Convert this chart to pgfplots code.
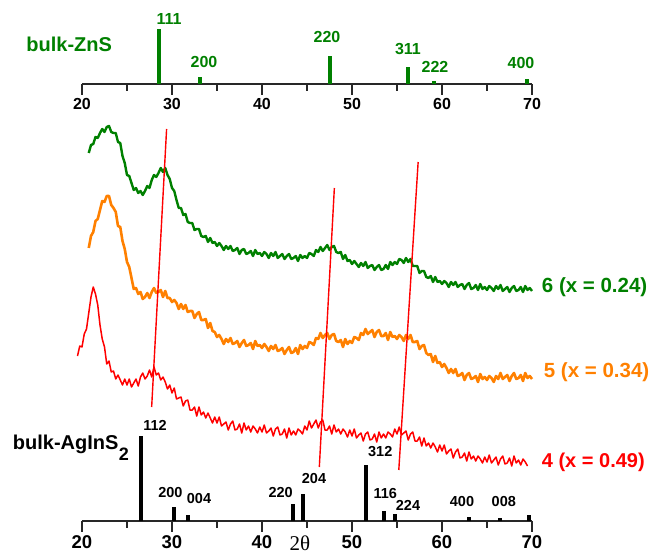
\documentclass[border=0pt]{standalone}
\usepackage{fontspec}
\setmainfont{Liberation Sans}
\newfontfamily\serifgr{Liberation Serif}
\usepackage{pgfplots}
\pgfplotsset{compat=1.18}
\definecolor{zgreen}{RGB}{0,128,0}
\definecolor{org}{RGB}{255,128,0}
\definecolor{rd}{RGB}{255,0,0}
\definecolor{axc}{RGB}{40,40,40}
\begin{document}
\begin{tikzpicture}
\pgfplotsset{
 stickaxis/.style={scale only axis, width=450pt, xmin=20, xmax=70, ymin=0,
   enlargelimits=false, clip=false, anchor=south west,
   axis x line=bottom, axis y line=none,
   x axis line style={-, line width=1.4pt, color=axc},
   xtick={20,30,...,70}, minor xtick={25,35,...,65}, tick align=outside,
   major tick length=11pt, minor tick length=7pt,
   every tick/.style={line width=1.4pt, color=axc},
   /pgf/number format/assume math mode=true},
}
% ---------- top: bulk ZnS ----------
\begin{axis}[stickaxis, at={(82pt,472pt)}, height=60pt, ymax=60,
  xticklabel style={font=\fontsize{16}{16}\selectfont\bfseries}]
\addplot[ycomb, line width=4pt, color=zgreen] coordinates {(28.61,55) (33.15,6.7) (47.5,28.3) (56.2,17.3) (59.1,3) (69.4,4.7)};
\begin{scope}[every node/.style={font=\fontsize{16}{16}\selectfont\bfseries, text=zgreen}]
\node at (axis cs:29.67,65) {111};
\node at (axis cs:33.56,21.5) {200};
\node at (axis cs:47.22,46.5) {220};
\node at (axis cs:56.22,35) {311};
\node at (axis cs:59.22,17) {222};
\node at (axis cs:68.78,20.5) {400};
\end{scope}
\node[inner sep=0pt, font=\fontsize{20}{20}\selectfont\bfseries, text=zgreen, anchor=base west] at (axis cs:13.8,32) {bulk-ZnS};
\end{axis}
% ---------- bottom: bulk AgInS2 ----------
\begin{axis}[stickaxis, at={(82pt,35pt)}, height=100pt, ymax=100,
  xticklabel style={font=\fontsize{18.5}{18.5}\selectfont\bfseries},
  xlabel={\serifgr 2θ},
  xlabel style={at={(axis description cs:0.4844,-0.145)}, anchor=north, inner sep=0pt, font=\fontsize{21}{21}\selectfont}]
\addplot[ycomb, line width=4pt, color=black] coordinates {(26.59,84.7) (30.26,14) (31.8,6.4) (43.39,16.7) (44.53,27) (51.6,55.7) (53.6,9.7) (54.8,7.4) (63.0,4) (66.48,2.5) (69.67,6)};
\begin{scope}[every node/.style={font=\fontsize{14.5}{14.5}\selectfont\bfseries, text=black}]
\node at (axis cs:28.11,96) {112};
\node at (axis cs:29.83,28) {200};
\node at (axis cs:33.0,22) {004};
\node at (axis cs:42.08,28.5) {220};
\node at (axis cs:45.78,42) {204};
\node at (axis cs:53.14,69) {312};
\node at (axis cs:53.7,27.5) {116};
\node at (axis cs:56.22,16) {224};
\node at (axis cs:62.22,19) {400};
\node at (axis cs:66.87,19) {008};
\end{scope}
\node[inner sep=0pt, font=\fontsize{20}{20}\selectfont\bfseries, anchor=base west] at (axis cs:12.3,71) {bulk-AgInS\kern0.5pt\raisebox{-11pt}{\fontsize{18}{18}\selectfont 2}};
\end{axis}
% ---------- middle: measured patterns ----------
\begin{axis}[scale only axis, width=450pt, height=556pt, at={(82pt,0pt)}, anchor=south west,
  xmin=20, xmax=70, ymin=0, ymax=556, y dir=reverse, hide axis, clip=false]
\addplot[color=zgreen, line width=2.4pt, line join=round] coordinates {
(20.75,153)(21,145)(21.25,144)(21.5,137)(21.75,138)(22,133)(22.25,129)(22.5,132)(22.75,127)(23,126)(23.25,132)(23.5,133)(23.75,133)(24,142)(24.25,143)(24.5,156)(24.75,163)(25,175)(25.25,176)(25.5,183)(25.75,190)(26,188)(26.25,193)(26.5,191)(26.75,195)(27,191)(27.25,186)(27.5,188)(27.75,180)(28,175)(28.25,177)(28.5,173)(28.75,168)(29,172)(29.25,168)(29.5,175)(29.75,179)(30,188)(30.25,191)(30.5,200)(30.75,208)(31,208)(31.25,215)(31.5,214)(31.75,222)(32,223)(32.25,223)(32.5,230)(32.75,229)(33,229)(33.25,236)(33.5,237)(33.75,236)(34,242)(34.25,238)(34.5,243)(34.75,242)(35,246)(35.25,243)(35.5,246)(35.75,250)(36,246)(36.25,249)(36.5,246)(36.75,251)(37,250)(37.25,248)(37.5,254)(37.75,250)(38,249)(38.25,254)(38.5,253)(38.75,251)(39,256)(39.25,250)(39.5,254)(39.75,253)(40,256)(40.25,252)(40.5,254)(40.75,258)(41,253)(41.25,256)(41.5,252)(41.75,258)(42,256)(42.25,254)(42.5,259)(42.75,256)(43,254)(43.25,259)(43.5,258)(43.75,256)(44,261)(44.25,255)(44.5,258)(44.75,256)(45,258)(45.25,253)(45.5,254)(45.75,256)(46,250)(46.25,252)(46.5,247)(46.75,251)(47,248)(47.25,245)(47.5,250)(47.75,247)(48,246)(48.25,252)(48.5,253)(48.75,252)(49,259)(49.25,255)(49.5,261)(49.75,260)(50,264)(50.25,261)(50.5,264)(50.75,267)(51,263)(51.25,266)(51.5,262)(51.75,268)(52,266)(52.25,265)(52.5,270)(52.75,267)(53,265)(53.25,270)(53.5,269)(53.75,265)(54,269)(54.25,262)(54.5,265)(54.75,262)(55,264)(55.25,259)(55.5,260)(55.75,263)(56,258)(56.25,262)(56.5,259)(56.75,266)(57,266)(57.25,266)(57.5,273)(57.75,271)(58,271)(58.25,277)(58.5,278)(58.75,276)(59,282)(59.25,277)(59.5,282)(59.75,281)(60,284)(60.25,281)(60.5,283)(60.75,287)(61,282)(61.25,285)(61.5,282)(61.75,287)(62,285)(62.25,284)(62.5,289)(62.75,285)(63,283)(63.25,289)(63.5,288)(63.75,285)(64,290)(64.25,284)(64.5,289)(64.75,287)(65,290)(65.25,286)(65.5,288)(65.75,291)(66,286)(66.25,289)(66.5,285)(66.75,291)(67,289)(67.25,287)(67.5,292)(67.75,288)(68,286)(68.25,291)(68.5,290)(68.75,287)(69,292)(69.25,286)(69.5,290)(69.75,288)(70,291)};
\addplot[color=org, line width=2.6pt, line join=round] coordinates {
(20.75,248)(21,236)(21.25,232)(21.5,221)(21.75,219)(22,210)(22.25,201)(22.5,202)(22.75,196)(23,196)(23.25,205)(23.5,208)(23.75,212)(24,226)(24.25,227)(24.5,241)(24.75,249)(25,262)(25.25,267)(25.5,278)(25.75,289)(26,288)(26.25,294)(26.5,292)(26.75,299)(27,297)(27.25,293)(27.5,298)(27.75,292)(28,288)(28.25,293)(28.5,292)(28.75,290)(29,297)(29.25,291)(29.5,298)(29.75,298)(30,302)(30.25,300)(30.5,303)(30.75,309)(31,304)(31.25,309)(31.5,305)(31.75,312)(32,311)(32.25,311)(32.5,318)(32.75,314)(33,312)(33.25,320)(33.5,320)(33.75,319)(34,328)(34.25,323)(34.5,331)(34.75,332)(35,337)(35.25,335)(35.5,339)(35.75,344)(36,339)(36.25,342)(36.5,338)(36.75,344)(37,343)(37.25,341)(37.5,347)(37.75,343)(38,340)(38.25,346)(38.5,345)(38.75,343)(39,349)(39.25,341)(39.5,346)(39.75,345)(40,348)(40.25,344)(40.5,347)(40.75,351)(41,346)(41.25,349)(41.5,345)(41.75,351)(42,350)(42.25,348)(42.5,354)(42.75,350)(43,347)(43.25,353)(43.5,352)(43.75,348)(44,354)(44.25,345)(44.5,349)(44.75,346)(45,348)(45.25,342)(45.5,343)(45.75,345)(46,338)(46.25,339)(46.5,333)(46.75,338)(47,335)(47.25,333)(47.5,339)(47.75,335)(48,334)(48.25,341)(48.5,342)(48.75,340)(49,347)(49.25,339)(49.5,344)(49.75,341)(50,343)(50.25,337)(50.5,338)(50.75,340)(51,333)(51.25,335)(51.5,329)(51.75,334)(52,332)(52.25,330)(52.5,337)(52.75,332)(53,330)(53.25,336)(53.5,336)(53.75,333)(54,340)(54.25,332)(54.5,337)(54.75,336)(55,339)(55.25,335)(55.5,337)(55.75,341)(56,335)(56.25,339)(56.5,335)(56.75,342)(57,342)(57.25,341)(57.5,349)(57.75,346)(58,345)(58.25,353)(58.5,355)(58.75,354)(59,362)(59.25,356)(59.5,363)(59.75,362)(60,367)(60.25,364)(60.5,368)(60.75,373)(61,369)(61.25,373)(61.5,369)(61.75,376)(62,375)(62.25,373)(62.5,380)(62.75,375)(63,373)(63.25,379)(63.5,378)(63.75,376)(64,382)(64.25,374)(64.5,379)(64.75,377)(65,380)(65.25,376)(65.5,378)(65.75,382)(66,376)(66.25,379)(66.5,373)(66.75,379)(67,377)(67.25,375)(67.5,381)(67.75,376)(68,373)(68.25,379)(68.5,378)(68.75,375)(69,381)(69.25,373)(69.5,378)(69.75,376)(70,379)};
\addplot[color=rd, line width=1.5pt, line join=round] coordinates {
(19.5,356)(19.75,346)(20,347)(20.25,334)(20.5,329)(20.75,313)(21,297)(21.25,287)(21.5,294)(21.75,305)(22,325)(22.25,339)(22.5,347)(22.75,364)(23,361)(23.25,372)(23.5,371)(23.75,379)(24,375)(24.25,380)(24.5,385)(24.75,379)(25,385)(25.25,379)(25.5,387)(25.75,383)(26,379)(26.25,386)(26.5,377)(26.75,373)(27,379)(27.25,376)(27.5,370)(27.75,377)(28,367)(28.25,375)(28.5,373)(28.75,380)(29,377)(29.25,382)(29.5,389)(29.75,385)(30,393)(30.25,388)(30.5,399)(30.75,398)(31,397)(31.25,406)(31.5,401)(31.75,400)(32,410)(32.25,410)(32.5,407)(32.75,416)(33,407)(33.25,415)(33.5,412)(33.75,418)(34,413)(34.25,418)(34.5,423)(34.75,417)(35,423)(35.25,417)(35.5,426)(35.75,424)(36,422)(36.25,430)(36.5,424)(36.75,421)(37,430)(37.25,429)(37.5,424)(37.75,433)(38,423)(38.25,430)(38.5,426)(38.75,432)(39,426)(39.25,429)(39.5,433)(39.75,427)(40,432)(40.25,425)(40.5,433)(40.75,431)(41,428)(41.25,436)(41.5,429)(41.75,427)(42,435)(42.25,434)(42.5,429)(42.75,438)(43,428)(43.25,435)(43.5,431)(43.75,435)(44,429)(44.25,431)(44.5,434)(44.75,426)(45,430)(45.25,421)(45.5,428)(45.75,424)(46,420)(46.25,428)(46.5,422)(46.75,420)(47,430)(47.25,430)(47.5,426)(47.75,434)(48,425)(48.25,432)(48.5,429)(48.75,434)(49,429)(49.25,432)(49.5,437)(49.75,430)(50,436)(50.25,429)(50.5,438)(50.75,435)(51,433)(51.25,441)(51.5,434)(51.75,432)(52,440)(52.25,439)(52.5,434)(52.75,442)(53,432)(53.25,438)(53.5,434)(53.75,438)(54,432)(54.25,434)(54.5,437)(54.75,429)(55,434)(55.25,427)(55.5,435)(55.75,433)(56,431)(56.25,440)(56.5,434)(56.75,432)(57,441)(57.25,441)(57.5,437)(57.75,446)(58,438)(58.25,446)(58.5,443)(58.75,448)(59,443)(59.25,447)(59.5,452)(59.75,445)(60,451)(60.25,445)(60.5,454)(60.75,451)(61,449)(61.25,458)(61.5,452)(61.75,449)(62,458)(62.25,457)(62.5,453)(62.75,461)(63,452)(63.25,459)(63.5,456)(63.75,461)(64,456)(64.25,459)(64.5,463)(64.75,457)(65,462)(65.25,455)(65.5,463)(65.75,460)(66,457)(66.25,465)(66.5,459)(66.75,456)(67,464)(67.25,463)(67.5,458)(67.75,466)(68,456)(68.25,463)(68.5,460)(68.75,465)(69,459)(69.25,462)(69.5,466)};
% guide lines through the shifting peaks
\addplot[color=rd, line width=1.4pt] coordinates {(29.4,129) (27.74,407)};
\addplot[color=rd, line width=1.4pt] coordinates {(48.04,188) (46.37,467)};
\addplot[color=rd, line width=1.4pt] coordinates {(57.35,162) (55.2,470)};
\node[inner sep=0pt, anchor=west, text=zgreen, font=\fontsize{20.5}{20.5}\selectfont\bfseries] at (axis cs:71.08,287) {6 (x = 0.24)};
\node[inner sep=0pt, anchor=west, text=org, font=\fontsize{20.5}{20.5}\selectfont\bfseries] at (axis cs:71.3,372) {5 (x = 0.34)};
\node[inner sep=0pt, anchor=west, text=rd, font=\fontsize{20}{20}\selectfont\bfseries] at (axis cs:71.08,462) {4 (x = 0.49)};
\end{axis}
\pgfresetboundingbox
\path[use as bounding box] (0,0) rectangle (653pt,556pt);
\end{tikzpicture}
\end{document}
